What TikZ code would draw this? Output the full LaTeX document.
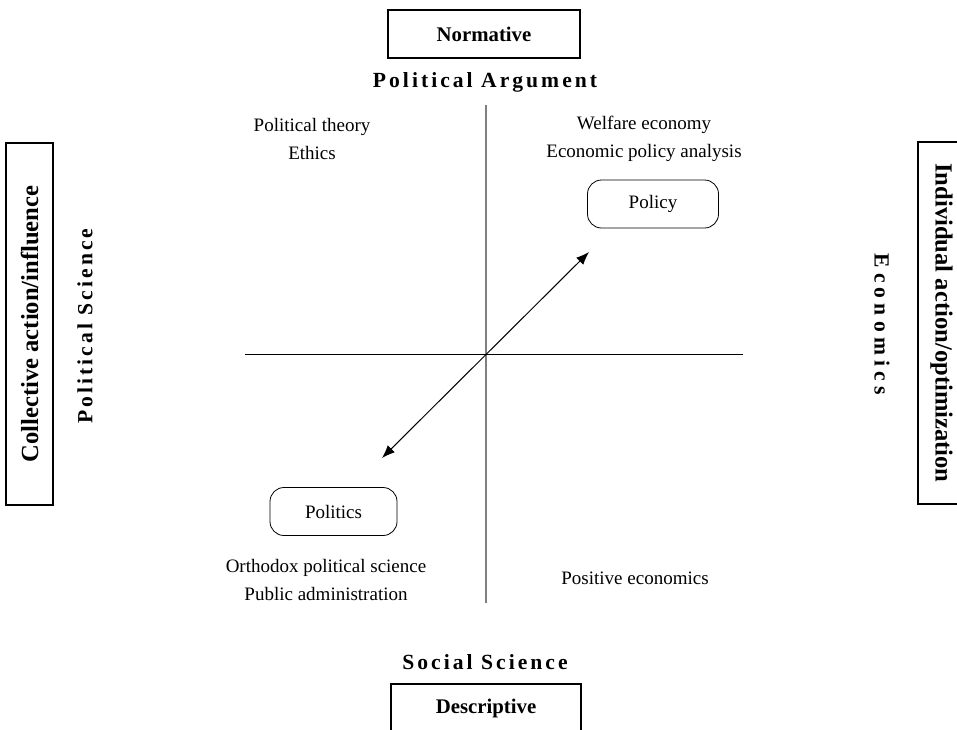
\documentclass[tikz,border=0pt]{standalone}
\usepackage{fontspec}
\setmainfont{Liberation Serif}
\newfontfamily\spaced[LetterSpace=14]{Liberation Serif}
\newfontfamily\wide[LetterSpace=24]{Liberation Serif}
\usetikzlibrary{arrows.meta}
\begin{document}
\begin{tikzpicture}[x=0.5pt,y=-0.5pt]
  \tikzstyle{every node}=[font=\fontsize{9.5}{14}\selectfont,align=center,inner sep=0pt]
  \tikzstyle{frame}=[draw,line width=0.6pt,font=\fontsize{10.4}{12}\selectfont\bfseries]
  \tikzstyle{sideframe}=[frame,minimum width=181pt,minimum height=23.5pt,font=\fontsize{12.3}{13}\selectfont\bfseries]
  \tikzstyle{pill}=[draw,rounded corners=7pt,minimum height=24pt]
  \tikzstyle{head}=[font=\fontsize{10.8}{12}\selectfont\spaced\bfseries]
  \useasboundingbox (0,0) rectangle (957,729);
  \clip (0,0) rectangle (957,729);
  % axes
  \draw[gray,line width=0.8pt] (486,105) coordinate (top) -- (486,603) coordinate (bottom);
  \draw[line width=0.5pt] (245,354) coordinate (left) -- (743,354) coordinate (right);
  \coordinate (up) at (589,252);
  \coordinate (down) at (382,458);
  \draw[{Latex[length=6.5pt,width=5pt]}-{Latex[length=6.5pt,width=5pt]},line width=0.5pt] (down) -- (up);
  % poles
  \node[frame,minimum width=96pt,minimum height=24pt] (normative) at (484,34) {Normative};
  \node[frame,minimum width=95pt,minimum height=24pt] (descriptive) at (486,708) {Descriptive};
  \node[sideframe,rotate=90] (collective) at (29.5,324) {Collective action/influence};
  \node[sideframe,rotate=-90] (individual) at (941.5,323) {Individual action/optimization};
  \node[head] (argument) at (485,82) {Political Argument};
  \node[head] (social) at (485,662) {Social Science};
  \node[head,rotate=90] (polsci) at (85,326) {Political Science};
  \node[font=\fontsize{10.8}{12}\selectfont\wide\bfseries,rotate=-90] (econ) at (882,324) {Economics};
  % quadrants
  \node (theory) at (312,139) {Political theory\\Ethics};
  \node (welfare) at (644,139) {Welfare economy\\Economic policy analysis};
  \node (orthodox) at (326,580) {Orthodox political science\\Public administration};
  \node (positive) at (635,578) {Positive economics};
  \node[pill,minimum width=65.5pt] (policy) at (653,204) {Policy};
  \node[pill,minimum width=63.5pt] (politics) at (333.5,511.5) {Politics};
\end{tikzpicture}
\end{document}
